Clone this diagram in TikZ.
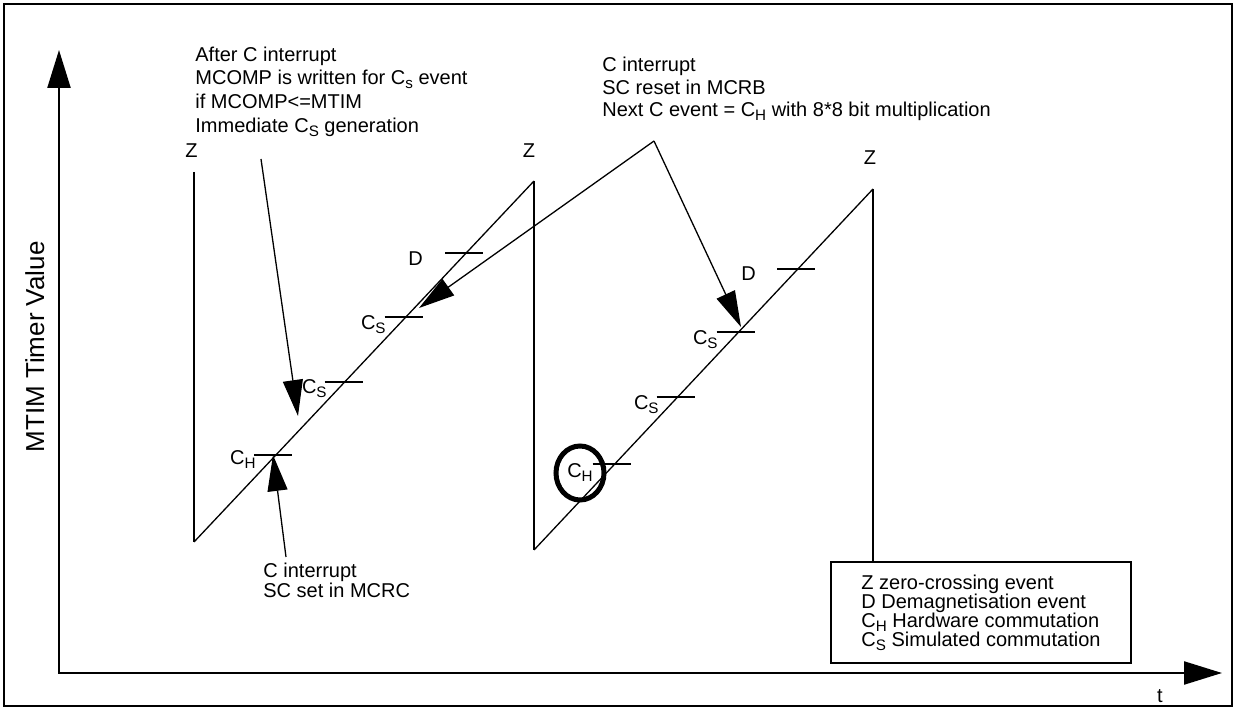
\documentclass[tikz,border=0pt]{standalone}
\usepackage{fontspec}
\setmainfont{Liberation Sans}
\usetikzlibrary{arrows.meta,shapes.geometric}
\setlength{\lineskiplimit}{-10pt}
\newcommand{\evsub}[1]{\raisebox{-2pt}{\fontsize{7.6}{8}\selectfont #1}}

\begin{document}
\begin{tikzpicture}[
  x=0.5pt,
  y=-0.5pt,
  axis/.style={
    line width=1.15pt,
    {Triangle[length=19pt,width=11.5pt]}-{Triangle[length=19pt,width=11.5pt]}
  },
  ramp/.style={line width=0.65pt},
  fall/.style={line width=1pt},
  evtick/.style={line width=1pt},
  eventlabel/.style={font=\fontsize{10}{12}\selectfont,inner sep=0pt},
  pointer/.style={
    -{Triangle[length=18pt,width=10pt]},line width=0.65pt
  },
  note/.style={
    font=\fontsize{10}{11.8}\selectfont,align=left,inner sep=0pt,
    anchor=north west
  },
  circled/.style={
    ellipse,draw,line width=2.5pt,minimum width=24pt,minimum height=27pt,
    inner sep=0pt,font=\fontsize{10}{12}\selectfont
  }
]
  \useasboundingbox (0,0) rectangle (1237,710);
  \draw[line width=1.1pt] (4,4) rectangle (1232,706);

  % Axes
  \coordinate (origin) at (59,673);
  \coordinate (y-end) at (59,50);
  \coordinate (x-end) at (1222,673);
  \draw[axis] (y-end) -- (origin) -- (x-end);
  \node[rotate=90,anchor=base,inner sep=0pt,font=\fontsize{13}{15}\selectfont]
    (y-label) at (44,347) {MTIM Timer Value};
  \node[eventlabel,anchor=base] (t-label) at (1160,703) {t};

  % Ramps
  \coordinate (z0) at (194,172);
  \coordinate (r1-bot) at (194,542);
  \coordinate (r1-top) at (534,181);
  \coordinate (r2-bot) at (534,550);
  \coordinate (r2-top) at (873,189);
  \draw[fall] (z0) -- (r1-bot);
  \draw[ramp] (r1-bot) -- (r1-top);
  \draw[fall] (r1-top) -- (r2-bot);
  \draw[ramp] (r2-bot) -- (r2-top);
  \node[eventlabel,anchor=base] (z0-label) at (191.5,158) {Z};
  \node[eventlabel,anchor=base] (z1-label) at (529,158) {Z};
  \node[eventlabel,anchor=base] (z2-label) at (870,165) {Z};

  % First ramp events
  \coordinate (r1-ch) at (273,455);
  \coordinate (r1-cs1) at (343.5,382);
  \coordinate (r1-cs2) at (403.5,317);
  \coordinate (r1-d) at (464,253);
  \draw[evtick] ([xshift=-9.5pt]r1-ch) -- ([xshift=9.5pt]r1-ch);
  \draw[evtick] ([xshift=-9.5pt]r1-cs1) -- ([xshift=9.5pt]r1-cs1);
  \draw[evtick] ([xshift=-9.5pt]r1-cs2) -- ([xshift=9.5pt]r1-cs2);
  \draw[evtick] ([xshift=-9.5pt]r1-d) -- ([xshift=9.5pt]r1-d);
  \node[eventlabel,anchor=base east] (r1-ch-label) at (256,465) {C\evsub{H}};
  \node[eventlabel,anchor=base east] (r1-cs1-label) at (327,394) {C\evsub{S}};
  \node[eventlabel,anchor=base east] (r1-cs2-label) at (386,330) {C\evsub{S}};
  \node[eventlabel,anchor=base] (r1-d-label) at (415.5,266) {D};

  % Second ramp events
  \coordinate (r2-ch) at (611.5,464);
  \coordinate (r2-cs1) at (675.5,397);
  \coordinate (r2-cs2) at (735.5,332);
  \coordinate (r2-d) at (796,269);
  \draw[evtick] ([xshift=-9.5pt]r2-ch) -- ([xshift=9.5pt]r2-ch);
  \draw[evtick] ([xshift=-9.5pt]r2-cs1) -- ([xshift=9.5pt]r2-cs1);
  \draw[evtick] ([xshift=-9.5pt]r2-cs2) -- ([xshift=9.5pt]r2-cs2);
  \draw[evtick] ([xshift=-9.5pt]r2-d) -- ([xshift=9.5pt]r2-d);
  \node[circled] (r2-ch-label) at (580,473) {C\evsub{H}};
  \node[eventlabel,anchor=base east] (r2-cs1-label) at (659,410) {C\evsub{S}};
  \node[eventlabel,anchor=base east] (r2-cs2-label) at (718,345) {C\evsub{S}};
  \node[eventlabel,anchor=base] (r2-d-label) at (748.5,281) {D};

  % Notes
  \node[note] (after-note) at (195,46.5) {After C interrupt\\
    MCOMP is written for C\evsub{s} event\\
    if MCOMP<=MTIM\\
    Immediate C\evsub{S} generation};
  \node[note,font=\fontsize{10}{11.4}\selectfont] (reset-note) at (602,56.5) {C interrupt\\
    SC reset in MCRB\\
    Next C event = C\evsub{H} with 8*8 bit multiplication};
  \node[note,font=\fontsize{10}{10}\selectfont] (set-note) at (263,562.5) {C interrupt\\
    SC set in MCRC};

  \coordinate (after-from) at (261,159);
  \coordinate (after-to) at (298,416);
  \draw[pointer] (after-from) -- (after-to);
  \coordinate (set-from) at (286,557);
  \draw[pointer] (set-from) -- (r1-ch);
  \coordinate (apex) at (654,141);
  \coordinate (reset-to1) at (419,308);
  \coordinate (reset-to2) at (741,327);
  \draw[pointer] (apex) -- (reset-to1);
  \draw[pointer] (apex) -- (reset-to2);

  % Legend
  \node[draw,line width=1pt,minimum width=150pt,minimum height=50.5pt,
    align=left,font=\fontsize{10}{9.45}\selectfont] (legend) at (981,612.5)
    {Z zero-crossing event\\
    D Demagnetisation event\\
    C\evsub{H} Hardware commutation\\
    C\evsub{S} Simulated commutation};
  \draw[fall] (r2-top) -- (r2-top |- legend.north);
\end{tikzpicture}
\end{document}
